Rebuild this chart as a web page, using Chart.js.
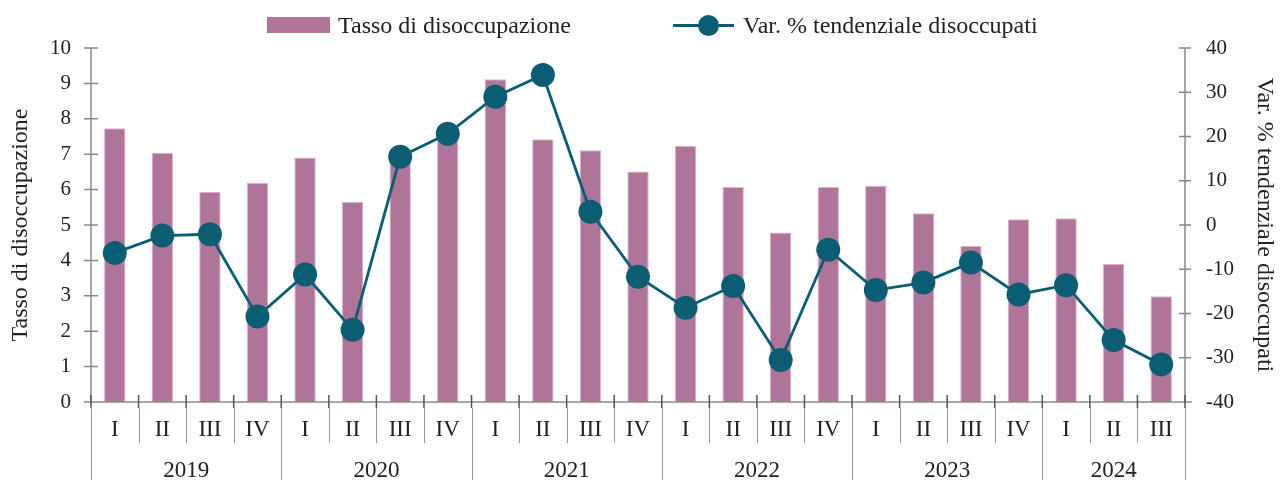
<!DOCTYPE html>
<html>
<head>
<meta charset="utf-8">
<script src="https://cdn.jsdelivr.net/npm/chart.js@4/dist/chart.umd.min.js"></script>
<style>
  html, body { margin: 0; padding: 0; background: #fff; }
  #wrap { position: relative; width: 1281px; height: 480px; }
  .legend-text {
    position: absolute; top: 10px; font-family: "Liberation Serif", serif;
    font-size: 24px; line-height: 30px; color: #222; white-space: nowrap;
  }
  #sw-bar { position: absolute; left: 267px; top: 17px; width: 63px; height: 16px; background: #ae7599; }
  #sw-line { position: absolute; left: 673px; top: 24px; width: 61px; height: 3px; background: #0a5d73; }
  #sw-dot { position: absolute; left: 698px; top: 15px; width: 21px; height: 21px; border-radius: 50%; background: #0a5d73; }
</style>
</head>
<body>
<div id="wrap">
  <canvas id="myChart" width="1281" height="480"></canvas>
  <div id="sw-bar"></div>
  <div class="legend-text" id="lg1" style="left:338px;"></div>
  <div id="sw-line"></div>
  <div id="sw-dot"></div>
  <div class="legend-text" id="lg2" style="left:743px;"></div>
</div>
<script>
const quarterLabels = [
  "I", "II", "III", "IV",
  "I", "II", "III", "IV",
  "I", "II", "III", "IV",
  "I", "II", "III", "IV",
  "I", "II", "III", "IV",
  "I", "II", "III",
];
const years = ["2019", "2020", "2021", "2022", "2023", "2024"];
const quartersPerYear = [4, 4, 4, 4, 4, 3];

const tassoDisoccupazione = [
  7.73, 7.04, 5.94, 6.19,
  6.91, 5.65, 6.85, 7.45,
  9.12, 7.42, 7.11, 6.51,
  7.24, 6.07, 4.79, 6.07,
  6.11, 5.33, 4.41, 5.16,
  5.19, 3.9, 2.99,
];
const varTendenziale = [
  -6.3, -2.4, -2.1, -20.7,
  -11.2, -23.7, 15.4, 20.6,
  29.0, 33.9, 3.0, -11.7,
  -18.7, -13.8, -30.5, -5.6,
  -14.7, -13.0, -8.5, -15.7,
  -13.6, -26.0, -31.5,
];

const seriesNames = ["Tasso di disoccupazione", "Var. % tendenziale disoccupati"];
document.querySelector("#lg1").textContent = seriesNames[0];
document.querySelector("#lg2").textContent = seriesNames[1];

const barColor = "#ae7599";
const lineColor = "#0a5d73";
const axisColor = "#8a8a8a";
const textColor = "#222";
const serif = "'Liberation Serif', serif";

// axes, crossing ticks, quarter separators and year row
const axisPlugin = {
  id: "axisPlugin",
  afterDraw: (chart) => {
    const ctx = chart.ctx;
    const area = chart.chartArea;
    const x = chart.scales.x;
    const yL = chart.scales.y;
    const yR = chart.scales.y1;
    ctx.save();
    ctx.strokeStyle = axisColor;
    ctx.lineWidth = 1.5;

    ctx.beginPath();
    ctx.moveTo(area.left - 7, area.bottom);
    ctx.lineTo(area.right + 7, area.bottom);
    ctx.moveTo(area.left, area.top);
    ctx.lineTo(area.left, area.bottom);
    ctx.moveTo(area.right, area.top);
    ctx.lineTo(area.right, area.bottom);
    yL.ticks.forEach((t, i) => {
      const p = yL.getPixelForTick(i);
      ctx.moveTo(area.left - 7, p);
      ctx.lineTo(area.left + 7, p);
    });
    yR.ticks.forEach((t, i) => {
      const p = yR.getPixelForTick(i);
      ctx.moveTo(area.right - 6, p);
      ctx.lineTo(area.right + 6, p);
    });
    ctx.stroke();

    // category boundaries
    const n = quarterLabels.length;
    const bounds = [];
    for (let i = 0; i <= n; i++) {
      let b;
      if (i === 0) b = area.left;
      else if (i === n) b = area.right;
      else b = (x.getPixelForValue(i - 1) + x.getPixelForValue(i)) / 2;
      bounds.push(b);
    }
    const yearStarts = [0];
    quartersPerYear.forEach((q, i) => yearStarts.push(yearStarts[i] + q));

    ctx.strokeStyle = "#555";
    ctx.lineWidth = 1.5;
    ctx.beginPath();
    bounds.forEach((b) => {
      ctx.moveTo(b, area.bottom - 7);
      ctx.lineTo(b, area.bottom + 6);
    });
    ctx.stroke();

    ctx.strokeStyle = "#9a9a9a";
    ctx.lineWidth = 1;
    ctx.beginPath();
    bounds.forEach((b, i) => {
      const bx = Math.round(b) + 0.5;
      ctx.moveTo(bx, area.bottom + 6);
      ctx.lineTo(bx, yearStarts.includes(i) ? chart.height : area.bottom + 41);
    });
    ctx.stroke();

    ctx.fillStyle = textColor;
    ctx.font = "23px " + serif;
    ctx.textAlign = "center";
    ctx.textBaseline = "middle";
    years.forEach((yr, i) => {
      const cx = (bounds[yearStarts[i]] + bounds[yearStarts[i + 1]]) / 2;
      ctx.fillText(yr, cx, area.bottom + 69);
    });
    ctx.restore();
  },
};

const ctx = document.getElementById("myChart").getContext("2d");
const myChart = new Chart(ctx, {
  type: "bar",
  data: {
    labels: quarterLabels,
    datasets: [
      {
        type: "line",
        label: seriesNames[1],
        data: varTendenziale,
        yAxisID: "y1",
        borderColor: lineColor,
        backgroundColor: lineColor,
        borderWidth: 2.8,
        pointRadius: 12,
        pointHoverRadius: 12,
        pointBorderWidth: 0,
        pointBackgroundColor: lineColor,
        tension: 0,
        clip: false,
        order: 0,
      },
      {
        type: "bar",
        label: seriesNames[0],
        data: tassoDisoccupazione,
        yAxisID: "y",
        backgroundColor: barColor,
        borderColor: "#d9b3cb",
        borderWidth: 1,
        barPercentage: 0.45,
        categoryPercentage: 1,
        order: 1,
      },
    ],
  },
  options: {
    responsive: false,
    animation: false,
    layout: {padding: {top: 48, left: 0, right: 0, bottom: 0}},
    plugins: {
      legend: {display: false},
      tooltip: {enabled: false},
    },
    scales: {
      x: {
        offset: true,
        grid: {display: false, drawTicks: false},
        border: {display: false},
        ticks: {
          color: textColor,
          font: {family: serif, size: 23},
          padding: 14,
          maxRotation: 0,
          autoSkip: false,
        },
        afterFit: (scale) => {
          scale.height = 78;
        },
      },
      y: {
        position: "left",
        min: 0,
        max: 10,
        grid: {display: false, drawTicks: false},
        border: {display: false},
        ticks: {
          stepSize: 1,
          color: textColor,
          font: {family: serif, size: 21},
          padding: 20,
        },
        title: {
          display: true,
          text: seriesNames[0],
          color: textColor,
          font: {family: serif, size: 24},
          padding: {top: 6, bottom: 0},
        },
        afterFit: (scale) => {
          scale.width = 91;
        },
      },
      y1: {
        position: "right",
        min: -40,
        max: 40,
        grid: {display: false, drawTicks: false},
        border: {display: false},
        ticks: {
          stepSize: 10,
          color: textColor,
          font: {family: serif, size: 21},
          padding: 21,
        },
        title: {
          display: true,
          text: seriesNames[1],
          color: textColor,
          font: {family: serif, size: 24},
          padding: {top: 2, bottom: 0},
        },
        afterFit: (scale) => {
          scale.width = 96;
        },
      },
    },
  },
  plugins: [axisPlugin],
});
</script>
</body>
</html>
